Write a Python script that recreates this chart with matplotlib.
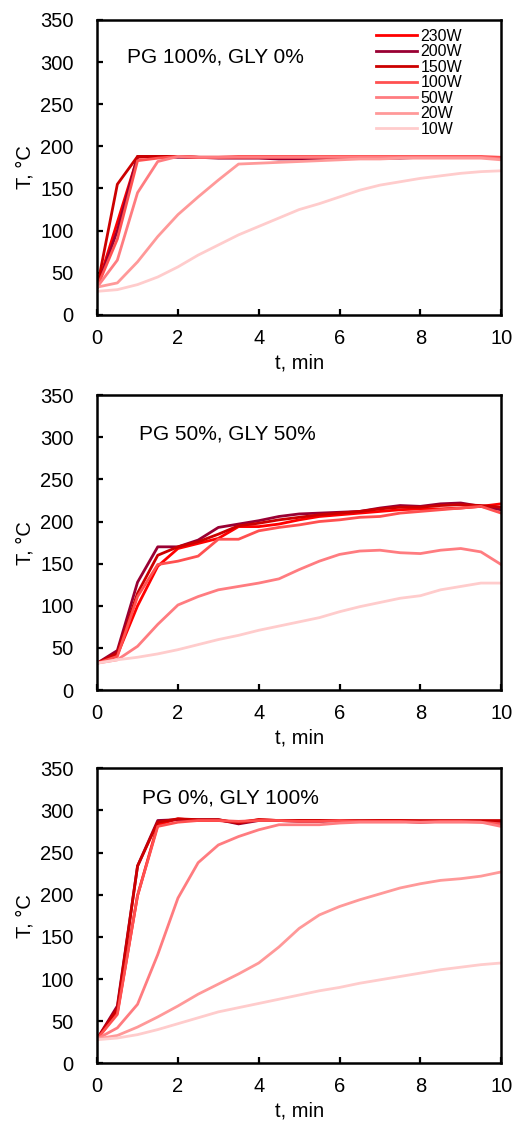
import matplotlib
matplotlib.use("Agg")
import matplotlib.pyplot as plt

plt.rcParams["font.family"] = ["Liberation Sans", "DejaVu Sans"]

# time axis, every 0.5 min
T_MIN = [0, 0.5, 1, 1.5, 2, 2.5, 3, 3.5, 4, 4.5, 5, 5.5, 6, 6.5, 7, 7.5, 8, 8.5, 9, 9.5, 10]

POWERS = ["230W", "200W", "150W", "100W", "50W", "20W", "10W"]
COLORS = ["#FF0000", "#990033", "#CC0000", "#FF5050", "#FF7C80", "#FF9999", "#FFCCCC"]

# PG 100%, GLY 0%
p1_230 = [33, 110, 187, 188, 188, 187, 187, 187, 187, 187, 187, 187, 187, 187, 187, 187, 187, 187, 187, 187, 186]
p1_200 = [33, 100, 188, 188, 187, 187, 186, 186, 186, 185, 185, 185, 186, 186, 186, 186, 187, 187, 187, 187, 186]
p1_150 = [33, 155, 188, 188, 188, 187, 187, 187, 187, 187, 187, 187, 187, 187, 187, 187, 187, 187, 187, 187, 186]
p1_100 = [33, 90, 183, 186, 188, 187, 187, 188, 188, 188, 188, 188, 188, 188, 188, 188, 188, 188, 188, 188, 187]
p1_50 = [33, 65, 145, 182, 188, 187, 187, 187, 187, 187, 187, 187, 187, 187, 187, 187, 187, 187, 187, 187, 185]
p1_20 = [33, 38, 63, 93, 119, 140, 160, 179, 180, 181, 182, 183, 184, 185, 185, 186, 186, 186, 186, 186, 184]
p1_10 = [28, 30, 36, 45, 57, 71, 83, 95, 105, 115, 125, 132, 140, 148, 154, 158, 162, 165, 168, 170, 171]

# PG 50%, GLY 50%  (no 20W run shown)
p2_230 = [32, 42, 100, 147, 168, 174, 180, 194, 194, 197, 202, 206, 208, 210, 212, 214, 215, 215, 216, 218, 221]
p2_200 = [32, 47, 128, 170, 170, 178, 193, 197, 201, 206, 209, 210, 211, 212, 216, 219, 218, 221, 222, 218, 214]
p2_150 = [32, 44, 115, 160, 170, 176, 185, 195, 198, 202, 205, 208, 210, 212, 215, 217, 217, 219, 220, 219, 217]
p2_100 = [32, 40, 111, 149, 153, 159, 179, 179, 189, 193, 196, 200, 202, 205, 206, 210, 212, 214, 216, 218, 210]
p2_50 = [32, 36, 52, 78, 101, 111, 119, 123, 127, 132, 143, 153, 161, 165, 166, 163, 162, 166, 168, 164, 149]
p2_10 = [32, 36, 39, 43, 48, 54, 60, 65, 71, 76, 81, 86, 93, 99, 104, 109, 112, 119, 123, 127, 127]

# PG 0%, GLY 100%
p3_230 = [29, 60, 199, 283, 290, 288, 288, 286, 289, 288, 288, 288, 288, 287, 288, 288, 287, 287, 287, 287, 286]
p3_200 = [29, 68, 234, 288, 289, 289, 289, 284, 288, 288, 287, 287, 288, 287, 287, 287, 286, 287, 287, 287, 285]
p3_150 = [29, 65, 234, 286, 290, 289, 289, 285, 289, 288, 288, 288, 288, 288, 288, 288, 288, 288, 288, 288, 288]
p3_100 = [29, 58, 199, 281, 286, 288, 288, 287, 288, 288, 287, 287, 288, 287, 287, 287, 286, 287, 287, 286, 284]
p3_50 = [29, 42, 70, 129, 196, 238, 259, 269, 277, 283, 283, 283, 285, 286, 286, 286, 286, 286, 286, 286, 281]
p3_20 = [29, 33, 43, 55, 68, 82, 94, 106, 119, 138, 160, 176, 186, 194, 201, 208, 213, 217, 219, 222, 227]
p3_10 = [28, 30, 34, 40, 47, 54, 61, 66, 71, 76, 81, 86, 90, 95, 99, 103, 107, 111, 114, 117, 119]

PANELS = [
    ("PG 100%, GLY 0%", {"230W": p1_230, "200W": p1_200, "150W": p1_150, "100W": p1_100,
                         "50W": p1_50, "20W": p1_20, "10W": p1_10}, (0.074, 0.875)),
    ("PG 50%, GLY 50%", {"230W": p2_230, "200W": p2_200, "150W": p2_150, "100W": p2_100,
                         "50W": p2_50, "10W": p2_10}, (0.104, 0.868)),
    ("PG 0%, GLY 100%", {"230W": p3_230, "200W": p3_200, "150W": p3_150, "100W": p3_100,
                         "50W": p3_50, "20W": p3_20, "10W": p3_10}, (0.11, 0.90)),
]
AX_BOTTOMS = [0.7198, 0.386, 0.054]
FS = 14.5


def draw_panel(ax, title, series, text_pos, with_legend):
    for name, color in zip(POWERS, COLORS):
        if name in series:
            ax.plot(T_MIN, series[name], color=color, lw=2.0, label=name)
    ax.text(text_pos[0], text_pos[1], title, transform=ax.transAxes,
            fontsize=15, ha="left", va="center")
    ax.set_xlim(0, 10)
    ax.set_ylim(0, 350)
    ax.set_xticks(range(0, 11, 2))
    ax.set_yticks(range(0, 351, 50))
    ax.tick_params(direction="in", length=4, width=1.6, labelsize=FS)
    ax.tick_params(axis="y", pad=17)
    ax.tick_params(axis="x", pad=10)
    for sp in ax.spines.values():
        sp.set_linewidth(1.8)
    ax.set_xlabel("t, min", fontsize=FS)
    ax.set_ylabel("T, \u00b0C", fontsize=FS)
    ax.xaxis.set_label_coords(0.5, -0.13)
    ax.yaxis.set_label_coords(-0.155, 0.5)
    if with_legend:
        ax.legend(loc="upper left", bbox_to_anchor=(0.69, 0.97), frameon=False,
                  fontsize=11.5, handlelength=2.6, handletextpad=0.2,
                  labelspacing=0.03, borderpad=0, borderaxespad=0)


fig = plt.figure(figsize=(5.14, 11.24), dpi=100)
for i, (title, series, pos) in enumerate(PANELS):
    ax = fig.add_axes([0.189, AX_BOTTOMS[i], 0.786, 0.2625])
    draw_panel(ax, title, series, pos, with_legend=(i == 0))

fig.savefig("out.png", dpi=100)
plt.close(fig)
